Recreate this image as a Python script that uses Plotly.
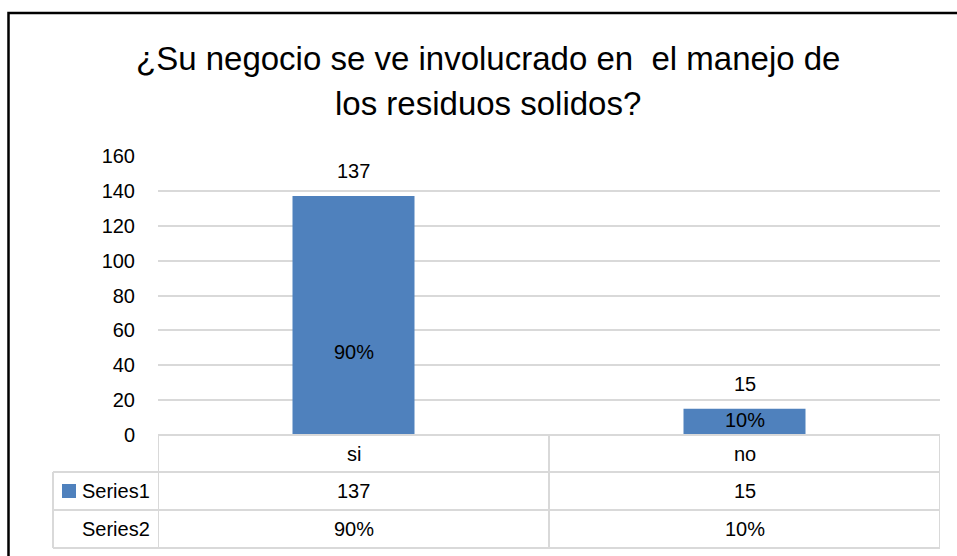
import plotly.graph_objects as go

# ---- data ----
categories = ["si", "no"]
series1 = [137, 15]
series2 = ["90%", "10%"]
series_names = ["Series1", "Series2"]
title_lines = ["¿Su negocio se ve involucrado en  el manejo de", "los residuos solidos?"]
y_ticks = [0, 20, 40, 60, 80, 100, 120, 140, 160]

BAR = "#4F81BD"
GRID = "#D9D9D9"
FONT = "Liberation Sans, Arial, sans-serif"
W, H = 957, 556
PL, PR, PT, PB = 158, 940, 156, 435  # page coordinates of plot area


def px(x):
    return (x - PL) / (PR - PL)


def py(y):
    return (PB - y) / (PB - PT)


fig = go.Figure()
fig.add_trace(go.Bar(
    x=categories, y=series1, marker=dict(color=BAR, line=dict(width=0)),
    name=series_names[0], hoverinfo="x+y",
))

annotations = []
shapes = []

# value labels above bars and percent labels within bars
pct_y = [47.8, 8.6]
for i, (c, v, p) in enumerate(zip(categories, series1, series2)):
    annotations.append(dict(x=c, y=v, xref="x", yref="y", text=str(v), showarrow=False,
                            yanchor="middle", yshift=25, font=dict(size=20, color="#000", family=FONT)))
    annotations.append(dict(x=c, y=pct_y[i], xref="x", yref="y", text=p, showarrow=False,
                            yanchor="middle", font=dict(size=20, color="#000", family=FONT)))

# title
title_y = [59, 103]
for t, ty in zip(title_lines, title_y):
    annotations.append(dict(x=px(487.5), y=py(ty), xref="paper", yref="paper", text=t, showarrow=False,
                            xanchor="center", yanchor="middle", font=dict(size=33, color="#000", family=FONT)))

# data table
row_y = [435, 472, 510, 548]
line = dict(color=GRID, width=2)
shapes.append(dict(type="line", xref="paper", yref="paper", x0=px(PL), x1=px(PR), y0=py(row_y[0]), y1=py(row_y[0]), line=line))
for ry in row_y[1:]:
    shapes.append(dict(type="line", xref="paper", yref="paper", x0=px(53), x1=px(PR), y0=py(ry), y1=py(ry), line=line))
for xb in [-0.5, 0.5, 1.5]:
    shapes.append(dict(type="line", xref="x", yref="paper", x0=xb, x1=xb, y0=py(row_y[0]), y1=py(row_y[3]), line=line))
shapes.append(dict(type="line", xref="paper", yref="paper", x0=px(53), x1=px(53), y0=py(row_y[1]), y1=py(row_y[3]), line=line))

cell_font = dict(size=20, color="#000", family=FONT)
for i, c in enumerate(categories):
    annotations.append(dict(x=c, y=py((row_y[0] + row_y[1]) / 2), xref="x", yref="paper", text=c,
                            showarrow=False, yanchor="middle", font=cell_font))
    annotations.append(dict(x=c, y=py((row_y[1] + row_y[2]) / 2), xref="x", yref="paper", text=str(series1[i]),
                            showarrow=False, yanchor="middle", font=cell_font))
    annotations.append(dict(x=c, y=py((row_y[2] + row_y[3]) / 2), xref="x", yref="paper", text=series2[i],
                            showarrow=False, yanchor="middle", font=cell_font))
for k, name in enumerate(series_names):
    annotations.append(dict(x=px(152), y=py((row_y[k + 1] + row_y[k + 2]) / 2), xref="paper", yref="paper",
                            text=name, showarrow=False, xanchor="right", yanchor="middle", font=cell_font))
shapes.append(dict(type="rect", xref="paper", yref="paper", x0=px(62), x1=px(76), y0=py(484), y1=py(498),
                   fillcolor=BAR, line=dict(width=0)))

# outer frame
shapes.append(dict(type="rect", xref="paper", yref="paper", x0=px(8.5), x1=px(975), y0=py(13), y1=py(575),
                   line=dict(color="#000", width=2.5), fillcolor="rgba(0,0,0,0)"))

fig.update_layout(
    width=W, height=H,
    margin=dict(l=PL, r=W - PR, t=PT, b=H - PB, pad=0),
    paper_bgcolor="white", plot_bgcolor="white",
    showlegend=False, bargap=0.688,
    font=dict(family=FONT, size=20, color="#000"),
    annotations=annotations, shapes=shapes,
    xaxis=dict(type="category", range=[-0.5, 1.5], showticklabels=False, showgrid=False,
               zeroline=False, showline=False, ticks=""),
    yaxis=dict(range=[0, 160], tickvals=y_ticks, showgrid=True, gridcolor=GRID, gridwidth=2,
               zeroline=False, showline=False, ticks="", ticklabelstandoff=22,
               tickfont=dict(size=20, color="#000", family=FONT)),
)

fig.write_html("out.html", config={"displayModeBar": False},
               post_script="document.body.style.margin='0';document.body.style.overflow='hidden';")
